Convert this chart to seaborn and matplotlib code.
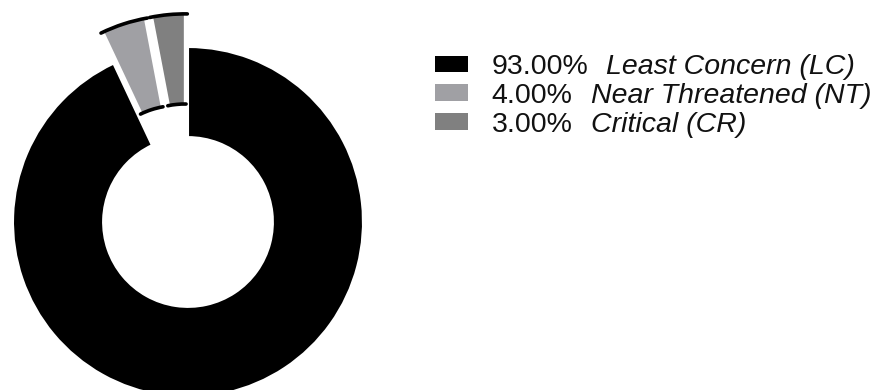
import matplotlib
matplotlib.use("Agg")
import matplotlib.pyplot as plt
from matplotlib.patches import Arc, Patch
import seaborn as sns

# ---------------------------------------------------------------------------
# Data
# ---------------------------------------------------------------------------
categories = ["Least Concern (LC)", "Near Threatened (NT)", "Critical (CR)"]
shares = [93.0, 4.0, 3.0]
colors = ["#000000", "#a0a0a4", "#808080"]
explode = [0.0, 0.19, 0.19]

sns.set_style("white")
plt.rcParams["font.family"] = ["Liberation Sans", "DejaVu Sans"]

fig = plt.figure(figsize=(8.76, 3.9), dpi=100)
# square axes, centre of donut at (188, 222) px, radius 175 px
ax = fig.add_axes([-22 / 876, -42 / 390, 420 / 876, 420 / 390])

wedges, _ = ax.pie(shares, colors=colors, explode=explode, startangle=90,
                   counterclock=False,
                   wedgeprops=dict(width=0.515, edgecolor="white", linewidth=1.5))

# black arcs on the outer / inner rims of the pulled-out slices
for w, e in zip(wedges, explode):
    if e == 0:
        continue
    for r in (w.r, w.r - w.width):
        ax.add_patch(Arc(w.center, 2 * r, 2 * r, theta1=w.theta1 - 0.8,
                         theta2=w.theta2 + 0.8, color="black", lw=2.6,
                         capstyle="round"))

ax.set_xlim(-1.2, 1.2)
ax.set_ylim(-1.2, 1.2)
ax.set_aspect("equal")
ax.axis("off")

fs = 20.5
handles = [Patch(facecolor=c, edgecolor="none") for c in colors]
pct_labels = [f"{v:.2f}%" for v in shares]
leg = fig.legend(handles, pct_labels, loc="upper left",
                 bbox_to_anchor=(435 / 876, 1 - 54 / 390),
                 frameon=False, fontsize=fs, handlelength=1.15, handleheight=0.52,
                 handletextpad=0.84, labelspacing=0.1, borderpad=0, borderaxespad=0,
                 labelcolor="#111111")

# italic category names right after each percentage
fig.canvas.draw()
inv = fig.transFigure.inverted()
for txt, name in zip(leg.get_texts(), categories):
    bb = txt.get_window_extent()
    x, y = inv.transform((bb.x1 + 18, bb.y0))
    fig.text(x, y, name, ha="left", va="bottom", fontsize=fs,
             style="italic", color="#111111")

fig.savefig("out.png", dpi=100)
